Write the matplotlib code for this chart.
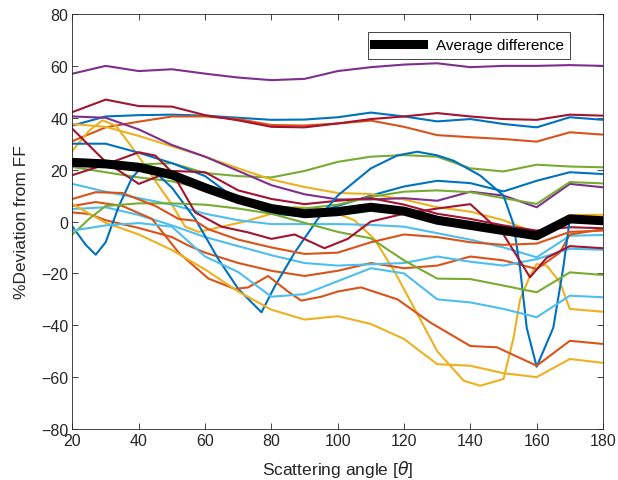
import numpy as np
import matplotlib
matplotlib.use("Agg")
import matplotlib.pyplot as plt

# MATLAB default colour order
BLUE, ORANGE, YELLOW, PURPLE = "#0072BD", "#D95319", "#EDB120", "#7E2F8E"
GREEN, LBLUE, DRED = "#77AC30", "#4DBEEE", "#A2142F"

x10 = [20, 30, 40, 50, 60, 70, 80, 90, 100, 110, 120, 130, 140, 150, 160, 170, 180]

# lines read on the common 10-degree grid
purple_top = [57, 60, 58, 58.7, 57, 55.5, 54.5, 55, 58, 59.5, 60.5, 61, 59.5, 60, 60, 60.3, 60]
purple_low = [40.5, 40, 35.5, 29.5, 25, 19.5, 14, 10.5, 8.5, 8.5, 9, 8, 11.5, 10, 5.5, 14.5, 13.2]
dred_top = [42.2, 47, 44.5, 44.3, 41, 39, 36.5, 36.3, 37.8, 39.5, 40.5, 41.8, 40.5, 39.5, 39.2, 41.2, 40.8]
blue_top = [37, 40.5, 41, 41.2, 40.8, 40, 39.2, 39.3, 40.2, 42, 40.5, 38.6, 39.5, 37.6, 36.3, 40.2, 39.2]
blue_mid = [30, 30, 26.5, 22.5, 17.5, 8, 3, 2, 6, 10, 13.5, 15.7, 14.8, 11.6, 15.7, 19, 18.3]
orange_top = [31, 36.3, 38.5, 40.5, 40.5, 39.5, 37.2, 37, 37.8, 38.9, 36.5, 33.3, 32.5, 31.8, 30.8, 34.4, 33.5]
yellow_mid = [37.6, 36.5, 33, 29, 25, 20.5, 16.2, 13.3, 11, 10.6, 8.5, 5.5, 3.8, 0.5, -4.5, 2.5, 2.6]
yellow_low = [6.7, -0.5, -5, -11, -18.5, -27, -34, -37.8, -36.5, -39.5, -45.3, -55, -55.6, -58.5, -60, -53, -54.5]
green_top = [22.2, 21.5, 22, 22.5, 18.7, 17.5, 17, 19.5, 23, 25, 25.6, 25, 20.5, 19.3, 21.9, 21.2, 20.9]
green_mid = [21, 19, 17, 15.5, 12.5, 9.5, 6, 5, 6.5, 9.5, 11.5, 12, 11.3, 9, 6.8, 15.2, 14.7]
lblue_a = [14.5, 11.5, 9, 6.5, 3, 0.5, -1, -1, -1, -1.3, -2, -4.5, -7, -10, -13.8, -5.5, -5.2]
lblue_b = [4.8, 5.5, 2.5, -1.5, -6, -9.5, -13, -16, -17, -16.5, -16, -13.5, -15.5, -17, -14.5, -10.5, -10.9]
lblue_c = [-3.5, -1.5, -0.6, -2, -13.5, -19.5, -29, -28, -23, -18, -20, -30, -31.2, -33.7, -36.9, -28.6, -29.2]

# lines with sharper features, own angle grids
dred_mid_x = [20, 30, 40, 50, 60, 70, 80, 90, 100, 110, 120, 130, 140, 150, 160, 170, 180]
dred_mid = [35.7, 23, 14.5, 19.5, 19, 12, 8.7, 6.7, 8, 9, 6.5, 3, 1, -1.5, -3.5, -2.2, -2.6]
dred_low_x = [20, 30, 40, 45, 50, 57, 65, 73, 80, 87, 96, 103, 110, 120, 130, 140, 150, 158, 163, 170, 180]
dred_low = [17.9, 22, 26.7, 25.4, 19, 3.5, -2, -4.2, -6.7, -5, -10.3, -6.7, 0, 3, 5, 6.7, -5, -21.5, -14, -9.5, -10.3]
green_low_x = [20, 25, 30, 40, 50, 60, 70, 80, 90, 100, 110, 120, 130, 140, 150, 160, 170, 180]
green_low = [-5, 1, 6, 7, 7, 6.5, 5, 3, -0.5, -4, -6.5, -15, -22, -22.2, -24.7, -27.3, -19.6, -20.6]
blue_osc_x = [20, 24, 27, 30, 34, 38, 41, 45, 50, 57, 64, 70, 77, 81, 87, 94, 100, 110, 118, 124,
              130, 135, 143, 150, 153, 155, 157, 160, 165, 168, 170, 175, 180]
blue_osc = [-2, -9, -12.8, -8, 6, 17, 21, 19, 13, 1, -14.5, -26, -35, -25, -12, 1, 10, 20.5, 25.5, 26.9,
            25.5, 23.4, 17.7, 10, -1, -18, -41, -56, -41, -18, 1, 1.5, 1]
yellow_peak_x = [20, 25, 29, 33, 36, 40, 46, 50, 54, 58, 65, 72, 80, 87, 95, 100, 105, 111, 117, 125,
                 130, 138, 143, 150, 153, 155, 158, 160, 163, 167, 170, 180]
yellow_peak = [27.3, 35, 39, 37, 32, 25, 13.8, 6.5, -2, -4, -2, 0, 3, 5.5, 5, 3, 0.5, -6.7, -19, -38,
               -50, -61.4, -63.3, -60.7, -45, -30, -21, -16.4, -17, -23.4, -33.7, -34.8]
orange_a_x = [20, 25, 30, 40, 50, 55, 60, 70, 80, 90, 100, 110, 120, 130, 140, 150, 160, 167, 170, 180]
orange_a = [3.5, 2.9, 0.5, -2.5, -6, -9.3, -12, -16, -19, -21, -19, -16, -18, -17, -13.5, -15, -18.3, -12, -5, -3]
orange_b_x = [20, 27, 35, 44, 52, 61, 69, 73, 79, 85, 89, 95, 100, 107, 118, 128, 140, 148, 160, 170, 180]
orange_b = [6, 7.5, 6, 1, -12, -22, -26, -25.4, -21, -27, -30.5, -29, -27, -25.4, -30, -39, -48, -48.5, -55.6, -46, -47.2]
orange_c_x = [20, 27, 35, 45, 52, 57, 61, 70, 80, 90, 100, 110, 120, 130, 140, 150, 160, 170, 180]
orange_c = [8.7, 11.3, 11, 6, 1, 0.3, -3, -7, -10, -12.5, -12, -8, -5, -6, -8, -9, -8.5, -4, -3.5]

avg_diff = [22.8, 22.2, 20.9, 18.0, 13.0, 8.5, 5.0, 3.0, 3.8, 5.5, 4.0, 0.5, -1.5, -3.5, -5.5, 1.0, 0.3]

series = [
    (x10, blue_top, BLUE), (x10, orange_top, ORANGE), (yellow_peak_x, yellow_peak, YELLOW),
    (x10, purple_top, PURPLE), (x10, green_top, GREEN), (x10, lblue_a, LBLUE), (x10, dred_top, DRED),
    (x10, blue_mid, BLUE), (orange_a_x, orange_a, ORANGE), (x10, yellow_mid, YELLOW),
    (x10, purple_low, PURPLE), (x10, green_mid, GREEN), (x10, lblue_b, LBLUE), (dred_mid_x, dred_mid, DRED),
    (blue_osc_x, blue_osc, BLUE), (orange_b_x, orange_b, ORANGE), (x10, yellow_low, YELLOW),
    (green_low_x, green_low, GREEN), (x10, lblue_c, LBLUE), (dred_low_x, dred_low, DRED),
    (orange_c_x, orange_c, ORANGE),
]

plt.rcParams['font.family'] = ['Liberation Sans', 'DejaVu Sans']

fig = plt.figure(figsize=(6.18, 4.81), dpi=100)
ax = fig.add_axes([0.1173, 0.106, 0.8584, 0.8628])

for xs, ys, c in series:
    ax.plot(xs, ys, color=c, linewidth=1.5, solid_joinstyle='round')

ax.plot(x10, avg_diff, color='black', linewidth=6.5, zorder=10,
        solid_joinstyle='round', label='Average difference')

ax.set_xlim(20, 180)
ax.set_ylim(-80, 80)
ax.set_xticks(np.arange(20, 181, 20))
ax.set_yticks(np.arange(-80, 81, 20))
ax.tick_params(direction='in', length=4, width=0.6, labelsize=11.5, colors='#262626',
               top=True, right=True, pad=3)
for s in ax.spines.values():
    s.set_color('#262626')
    s.set_linewidth(0.6)

ax.set_xlabel(r'Scattering angle [$\theta$]', fontsize=12.5, color='#262626', labelpad=7)
ax.set_ylabel('%Deviation from FF', fontsize=12.5, color='#262626', labelpad=9)

leg = ax.legend(loc='upper right', bbox_to_anchor=(0.953, 0.976), fancybox=False,
                edgecolor='#262626', fontsize=11, handlelength=3.2, borderpad=0.45,
                framealpha=1)
leg.get_frame().set_linewidth(0.6)

fig.savefig('out.png', dpi=100)
